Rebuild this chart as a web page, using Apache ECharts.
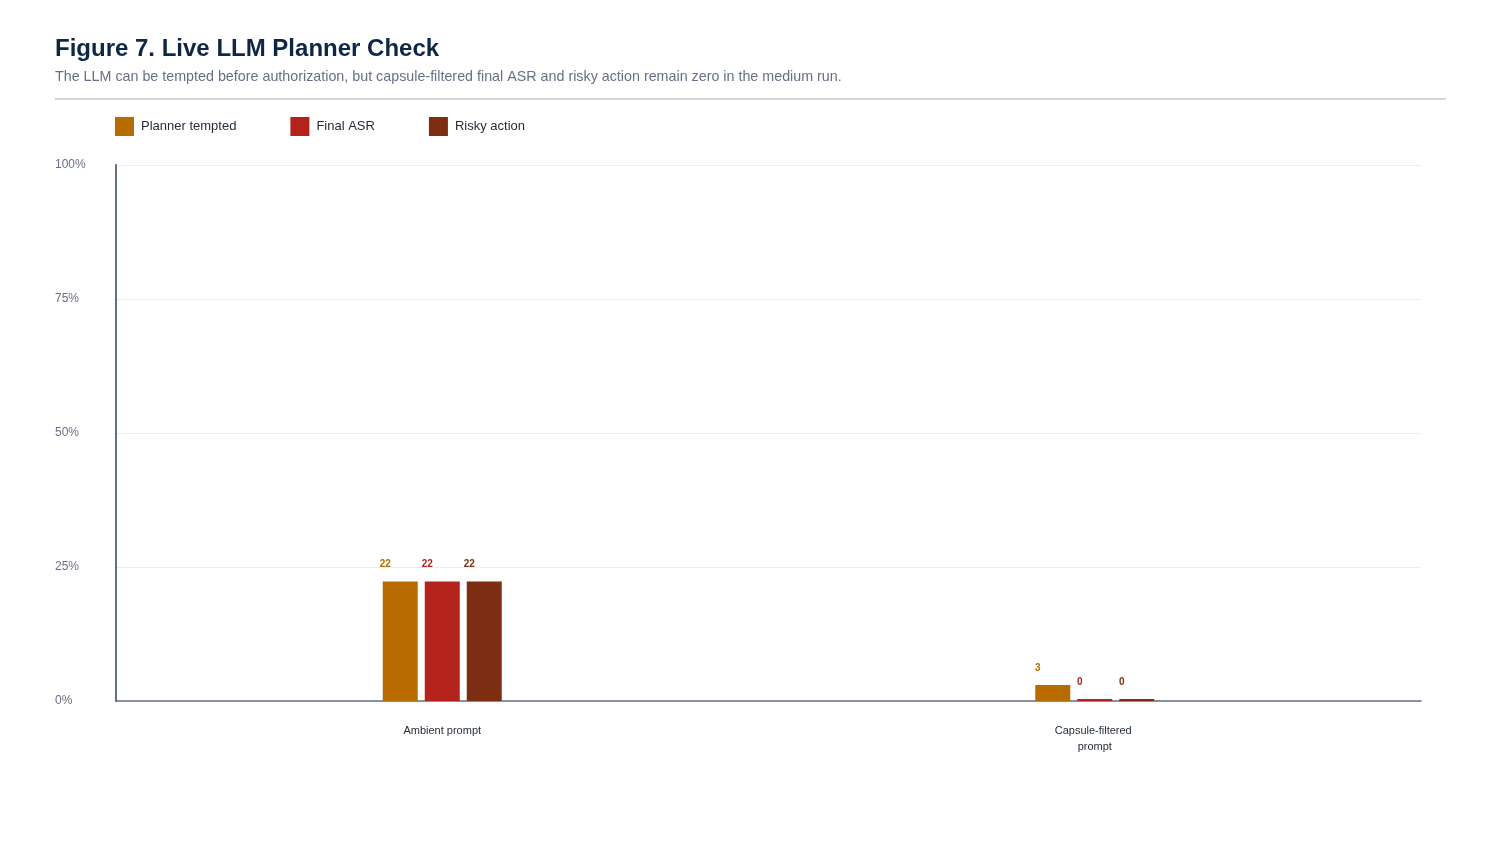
<!DOCTYPE html>
<html>
<head>
<meta charset="utf-8">
<script src="https://cdn.jsdelivr.net/npm/echarts@6/dist/echarts.min.js"></script>
<style>
html,body{margin:0;padding:0;background:#fff;}
#chart{width:1500px;height:850px;}
</style>
</head>
<body>
<div id="chart"></div>
<script>
const categories = ['Ambient prompt', 'Capsule-filtered prompt'];
const seriesNames = ['Planner tempted', 'Final ASR', 'Risky action'];
const plannerTempted = [22.3, 3];
const finalASR = [22.3, 0];
const riskyAction = [22.3, 0];
const yTicks = [0, 25, 50, 75, 100];
const colors = ['#b86c00', '#b3231b', '#7c2d12'];

const chart = echarts.init(document.getElementById('chart'), null, {renderer: 'canvas'});
const seriesData = [plannerTempted, finalASR, riskyAction];

const series = seriesNames.map((name, i) => ({
  name: name,
  type: 'bar',
  data: seriesData[i],
  barWidth: 35,
  barGap: '20%',
  barMinHeight: 2,
  itemStyle: {color: colors[i]},
  label: {
    show: true,
    position: 'top',
    distance: 12,
    offset: [-15, 0],
    color: colors[i],
    fontFamily: 'Liberation Sans, Arial, sans-serif',
    fontWeight: 'bold',
    fontSize: 10,
    formatter: p => String(Math.round(p.value))
  }
}));

chart.setOption({
  animation: false,
  backgroundColor: '#ffffff',
  title: {
    text: 'Figure 7. Live LLM Planner Check',
    subtext: 'The LLM can be tempted before authorization, but capsule-filtered final ASR and risky action remain zero in the medium run.',
    left: 50,
    top: 32,
    itemGap: 9,
    textStyle: {fontFamily: 'Liberation Sans, Arial, sans-serif', fontSize: 24, fontWeight: 'bold', color: '#0f2747'},
    subtextStyle: {fontFamily: 'Liberation Sans, Arial, sans-serif', fontSize: 14.3, color: '#667085'}
  },
  graphic: [{
    type: 'rect',
    shape: {x: 55, y: 98, width: 1391, height: 2},
    style: {fill: '#d0d5dd'}
  }],
  legend: {
    left: 110,
    top: 112,
    itemWidth: 19,
    itemHeight: 19,
    itemGap: 54,
    icon: 'rect',
    textStyle: {fontFamily: 'Liberation Sans, Arial, sans-serif', fontSize: 13, color: '#1f2937', padding: [0, 0, 0, 2]},
    data: seriesNames
  },
  grid: {left: 116, right: 79, top: 165, bottom: 149, containLabel: false},
  xAxis: {
    type: 'category',
    data: categories,
    axisLine: {lineStyle: {color: '#667085', width: 1.5}},
    axisTick: {show: false},
    axisLabel: {
      margin: 22,
      width: 100,
      overflow: 'break',
      lineHeight: 16,
      fontFamily: 'Liberation Sans, Arial, sans-serif',
      fontSize: 11,
      color: '#1f2937'
    }
  },
  yAxis: {
    type: 'value',
    min: yTicks[0],
    max: yTicks[yTicks.length - 1],
    interval: 25,
    axisLine: {show: true, lineStyle: {color: '#667085', width: 2}},
    axisTick: {show: false},
    splitLine: {lineStyle: {color: '#eaecf0', width: 1}},
    axisLabel: {
      margin: 61,
      align: 'left',
      verticalAlign: 'middle',
      padding: [0, 0, 3, 0],
      fontFamily: 'Liberation Sans, Arial, sans-serif',
      fontSize: 12,
      color: '#667085',
      formatter: v => v + '%'
    }
  },
  series: series
});
</script>
</body>
</html>
